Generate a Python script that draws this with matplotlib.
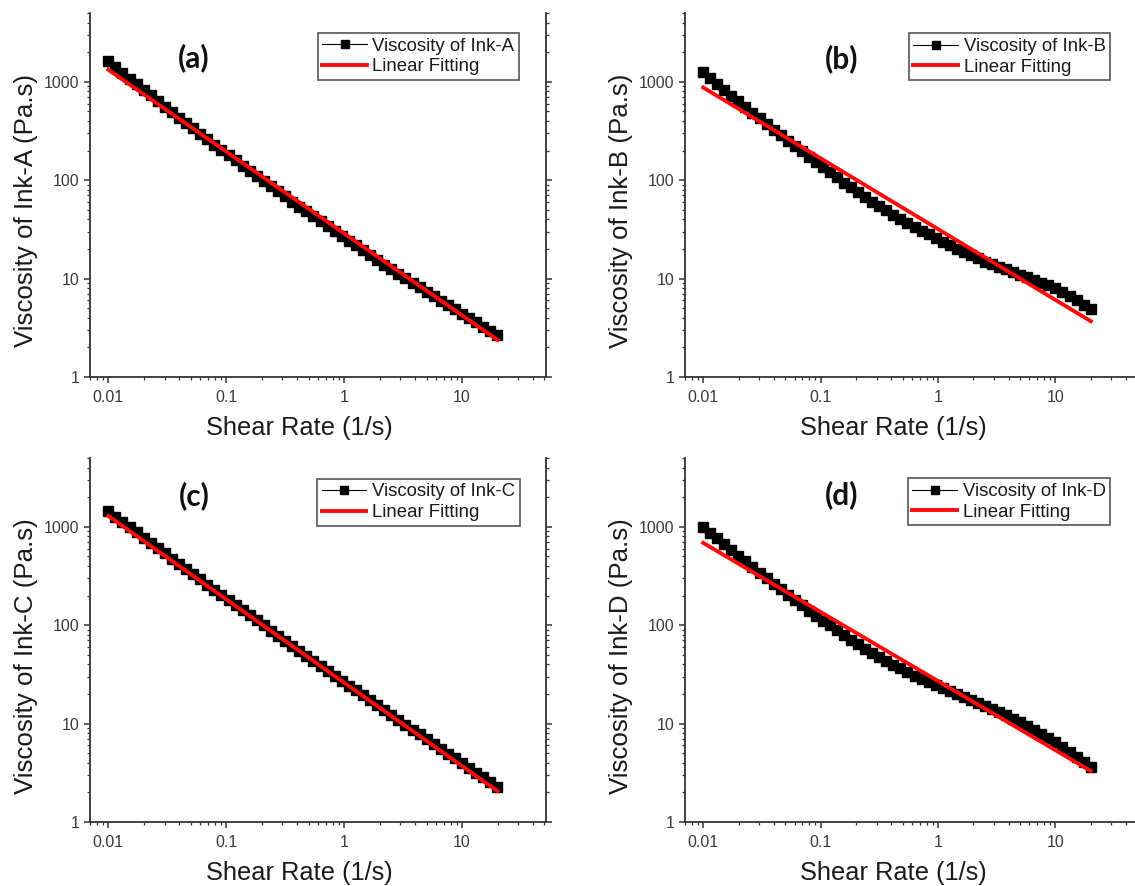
import matplotlib
matplotlib.use('Agg')
import matplotlib.pyplot as plt
from matplotlib.ticker import LogLocator, NullFormatter, FixedLocator, FixedFormatter

# ---------------- data ----------------
shear_rate = [0.0100, 0.01148, 0.01318, 0.01514, 0.01738, 0.01995, 0.02291, 0.02630,
              0.03020, 0.03467, 0.03981, 0.04571, 0.05248, 0.06026, 0.06918, 0.07943,
              0.09120, 0.1047, 0.1202, 0.1380, 0.1585, 0.1820, 0.2089, 0.2399,
              0.2754, 0.3162, 0.3631, 0.4169, 0.4786, 0.5495, 0.6310, 0.7244,
              0.8318, 0.9550, 1.096, 1.259, 1.445, 1.660, 1.905, 2.188,
              2.512, 2.884, 3.311, 3.802, 4.365, 5.012, 5.754, 6.607,
              7.586, 8.710, 10.00, 11.48, 13.18, 15.14, 17.38, 19.95]

visc_a = [1610, 1408, 1232, 1079, 945, 828, 726, 638, 560, 492,
          433, 381, 336, 296, 261, 230, 203, 180, 159, 140,
          124, 110, 97.7, 86.6, 76.9, 68.3, 60.7, 54.0, 48.1, 42.8,
          38.2, 34.0, 30.4, 27.1, 24.2, 21.7, 19.4, 17.4, 15.6, 13.9,
          12.5, 11.2, 10.1, 9.08, 8.16, 7.35, 6.62, 5.96, 5.38, 4.86,
          4.39, 3.96, 3.58, 3.24, 2.94, 2.66]

visc_b = [1259, 1096, 955, 832, 724, 631, 553, 484, 424, 371,
          325, 286, 252, 222, 196, 172, 153, 135, 120, 106.5,
          94.4, 84.5, 75.7, 67.8, 60.7, 54.3, 49.3, 44.8, 40.6, 36.9,
          33.5, 30.7, 28.2, 25.9, 23.8, 21.8, 20.2, 18.75, 17.4, 16.1,
          14.9, 14.0, 13.2, 12.4, 11.6, 10.9, 10.3, 9.66, 9.08, 8.53,
          8.02, 7.28, 6.61, 6.00, 5.45, 4.94]

visc_c = [1439, 1271, 1123, 992, 877, 775, 686, 606, 536, 475,
          420, 372, 330, 292, 259, 229, 203, 180, 160, 142,
          126, 112, 99.3, 88.2, 78.4, 69.7, 61.9, 55.0, 49.0, 43.5,
          38.7, 34.5, 30.7, 27.3, 24.3, 21.7, 19.3, 17.2, 15.4, 13.7,
          12.2, 10.9, 9.74, 8.70, 7.76, 6.93, 6.19, 5.54, 4.95, 4.43,
          3.96, 3.54, 3.17, 2.84, 2.54, 2.27]

visc_d = [1000, 873, 763, 666, 582, 508, 446, 391, 343, 301,
          264, 232, 205, 181, 159, 141, 125, 111.5, 99.3, 88.4,
          78.7, 71.1, 64.1, 57.9, 52.3, 47.2, 43.3, 39.8, 36.5, 33.5,
          30.8, 28.6, 26.7, 24.8, 23.1, 21.5, 20.0, 18.7, 17.5, 16.3,
          15.2, 14.1, 13.1, 12.1, 11.2, 10.4, 9.47, 8.62, 7.85, 7.14,
          6.50, 5.78, 5.14, 4.57, 4.06, 3.61]

fit_x = [0.01, 20]
fit_a = [1328, 2.38]
fit_b = [875, 3.69]
fit_c = [1290, 2.06]
fit_d = [686, 3.30]

ink_names = ['Ink-A', 'Ink-B', 'Ink-C', 'Ink-D']
panel_labels = ['(a)', '(b)', '(c)', '(d)']
x_ticks = [0.01, 0.1, 1, 10]
x_tick_labels = ['0.01', '0.1', '1', '10']
y_ticks = [1, 10, 100, 1000]
y_tick_labels = ['1', '10', '100', '1000']

# ---------------- figure ----------------
plt.rcParams['font.family'] = ['Liberation Sans', 'DejaVu Sans']
W, H = 1135, 886
fig = plt.figure(figsize=(W / 100, H / 100), dpi=100)

# pixel boxes (left, top, right, bottom)
boxes = [(90, 13, 546, 377), (685, 13, 1139, 377),
         (90, 458, 546, 822), (685, 458, 1139, 822)]
label_pos = [(0.228, 0.878), (0.346, 0.874), (0.228, 0.896), (0.346, 0.900)]
legend_anchor = [(0.941, 0.945), (0.937, 0.944), (0.942, 0.943), (0.937, 0.944)]

visc_all = [visc_a, visc_b, visc_c, visc_d]
fit_all = [fit_a, fit_b, fit_c, fit_d]

for i in range(4):
    l, t, r, b = boxes[i]
    ax = fig.add_axes([l / W, 1 - b / H, (r - l) / W, (b - t) / H])
    ax.set_xscale('log')
    ax.set_yscale('log')

    ax.plot(shear_rate, visc_all[i], '-s', color='black', ms=7.3, lw=0.8,
            label='Viscosity of ' + ink_names[i], zorder=2)
    ax.plot(fit_x, fit_all[i], '-', color='#ff0a0a', lw=2.8,
            label='Linear Fitting', zorder=3)

    ax.set_xlim(0.007, 51.5)
    ax.set_ylim(1, 5000)

    ax.xaxis.set_major_locator(FixedLocator(x_ticks))
    ax.xaxis.set_major_formatter(FixedFormatter(x_tick_labels))
    ax.xaxis.set_minor_locator(LogLocator(base=10, subs=range(2, 10)))
    ax.xaxis.set_minor_formatter(NullFormatter())
    ax.yaxis.set_major_locator(FixedLocator(y_ticks))
    ax.yaxis.set_major_formatter(FixedFormatter(y_tick_labels))
    ax.yaxis.set_minor_locator(LogLocator(base=10, subs=range(2, 10)))
    ax.yaxis.set_minor_formatter(NullFormatter())

    ax.spines['top'].set_visible(False)
    for s in ['left', 'right', 'bottom']:
        ax.spines[s].set_linewidth(1.3)
        ax.spines[s].set_color('#333333')

    ax.tick_params(which='both', direction='out', top=False, right=True,
                   labelright=False, colors='#333333', labelcolor='#3a3a3a',
                   labelsize=11.5)
    ax.tick_params(which='major', length=4.5, width=1.1)
    ax.tick_params(which='minor', length=2.5, width=0.9)
    ax.tick_params(axis='x', which='major', pad=5)
    ax.tick_params(axis='y', which='major', pad=3)

    ax.set_xlabel('Shear Rate (1/s)', fontsize=18.3, color='#1a1a1a')
    ax.set_ylabel('Viscosity of ' + ink_names[i] + ' (Pa.s)', fontsize=18.6,
                  color='#1a1a1a')
    ax.xaxis.set_label_coords(0.46, -0.14)
    ax.xaxis.label.set_va('center')
    ax.yaxis.set_label_coords(-0.14, 0.457)
    ax.yaxis.label.set_va('center')

    ax.text(label_pos[i][0], label_pos[i][1], panel_labels[i],
            transform=ax.transAxes, ha='center', va='center',
            fontsize=21.5, fontweight='bold', family=['Lato', 'DejaVu Sans'],
            color='#111111')

    leg = ax.legend(loc='upper right', bbox_to_anchor=legend_anchor[i],
                    borderaxespad=0, fontsize=13.4, frameon=True,
                    fancybox=False, edgecolor='#555555', framealpha=1,
                    handlelength=2.4, handletextpad=0.3, borderpad=0.25,
                    labelspacing=0.2, markerscale=0.85)
    leg.get_frame().set_linewidth(1.2)
    for txt in leg.get_texts():
        txt.set_color('#1a1a1a')

fig.savefig('out.png', dpi=100)
